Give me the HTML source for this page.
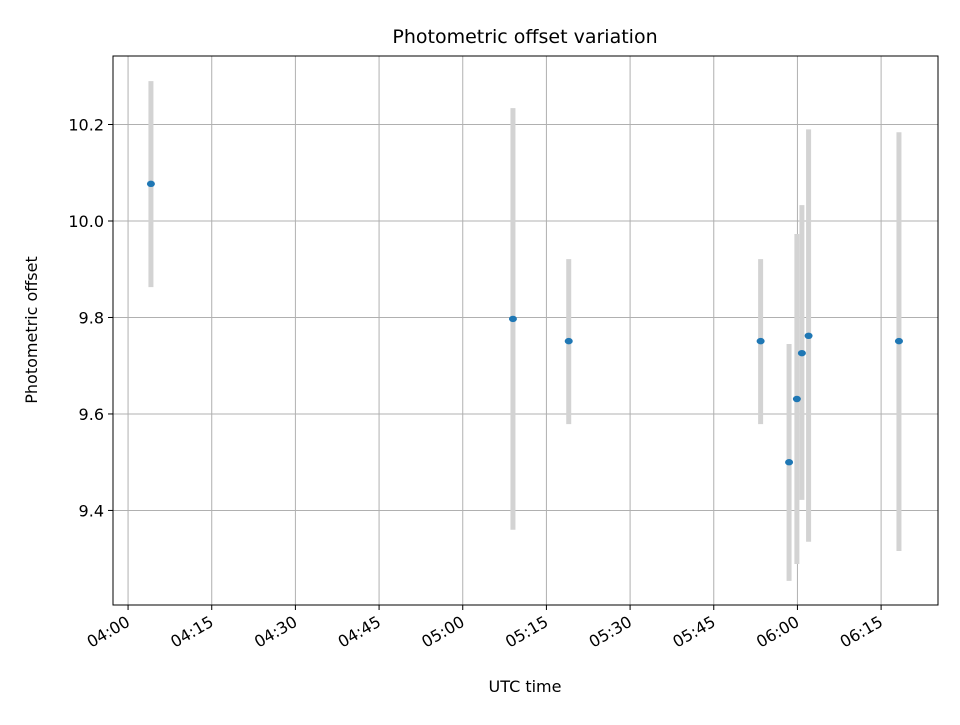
<!DOCTYPE html>
<html><head><meta charset="utf-8"><style>
body{margin:0;background:#fff;}
svg text{font-family:"DejaVu Sans","Liberation Sans",sans-serif;}
</style></head><body>
<svg width="960" height="720" xmlns="http://www.w3.org/2000/svg">
<rect width="960" height="720" fill="#fff"/>
<text x="525" y="43" text-anchor="middle" font-size="19px" fill="#000">Photometric offset variation</text>
<g id="grid"></g>
<g id="bars"></g>
<g id="pts"></g>
<rect x="113" y="56" width="825" height="549" fill="none" stroke="#000" stroke-width="1"/>
<g id="ticks"></g>
<text x="525" y="692" text-anchor="middle" font-size="16px">UTC time</text>
<text transform="translate(37,330) rotate(-90)" text-anchor="middle" font-size="16px">Photometric offset</text>
</svg>
<script>
// minutes after 04:00
const times=[4.1,69,79,113.4,118.5,119.9,120.8,122,138.2];
const values=[10.077,9.797,9.751,9.751,9.5,9.631,9.726,9.762,9.751];
const errHigh=[10.29,10.234,9.921,9.921,9.745,9.973,10.033,10.19,10.184];
const errLow=[9.863,9.36,9.579,9.579,9.254,9.289,9.422,9.335,9.316];
const yTicks=[9.4,9.6,9.8,10.0,10.2];
const yTickLabels=["9.4","9.6","9.8","10.0","10.2"];
const xTicks=[0,15,30,45,60,75,90,105,120,135];
const xTickLabels=["04:00","04:15","04:30","04:45","05:00","05:15","05:30","05:45","06:00","06:15"];
const L=113,R=938,T=56,B=605,xMin=-2.7,xMax=145.2,yMin=9.204,yMax=10.342;
const X=m=>L+(m-xMin)/(xMax-xMin)*(R-L);
const Y=v=>B-(v-yMin)/(yMax-yMin)*(B-T);
const NS="http://www.w3.org/2000/svg";
function mk(tag,at,parent){const e=document.createElementNS(NS,tag);for(const k in at)e.setAttribute(k,at[k]);document.getElementById(parent).appendChild(e);return e;}
xTicks.forEach((t,i)=>{const x=X(t);
 let g=mk('line',{x1:x,x2:x,y1:T,y2:B,stroke:'#b0b0b0','stroke-width':1},'grid');
 
 
 let tk=mk('line',{x1:x,x2:x,y1:B,y2:B+5,stroke:'#000'},'ticks');
 
 
 let tx=mk('text',{x:x+3,y:B+20,'text-anchor':'end','font-size':'16px',transform:`rotate(-30 ${x+3} ${B+20})`},'ticks');
 tx.textContent=xTickLabels[i];
 
 
});
yTicks.forEach((t,i)=>{const y=Y(t);
 let g=mk('line',{x1:L,x2:R,y1:y,y2:y,stroke:'#b0b0b0','stroke-width':1},'grid');
 
 
 let tk=mk('line',{x1:L-5,x2:L,y1:y,y2:y,stroke:'#000'},'ticks');
 
 
 let tx=mk('text',{x:L-9,y:y+6,'text-anchor':'end','font-size':'16px'},'ticks');
 tx.textContent=yTickLabels[i];
 
 
});
times.forEach((t,i)=>{const x=X(t);
 let b=mk('line',{x1:x,x2:x,y1:Y(errHigh[i]),y2:Y(errLow[i]),stroke:'#d3d3d3','stroke-width':5},'bars');
 
 
 let p=mk('ellipse',{cx:x,cy:Y(values[i]),rx:4,ry:3.2,fill:'#1f77b4'},'pts');
 
 
});
</script>
</body></html>
